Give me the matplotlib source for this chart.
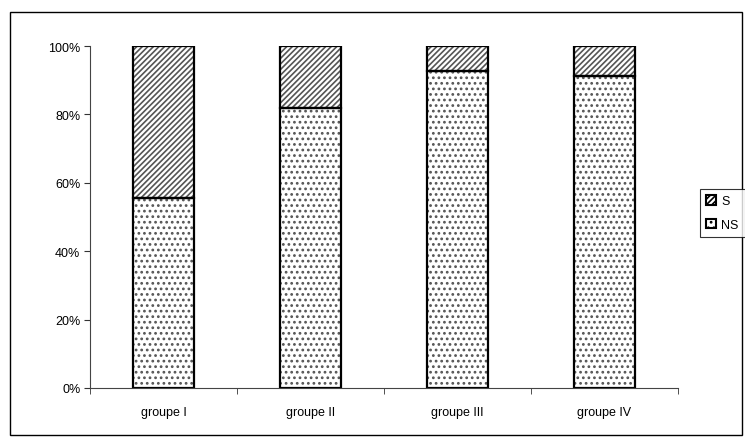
import matplotlib.pyplot as plt
import matplotlib.patches as mpatches
import numpy as np

plt.rcParams['font.family'] = ['Liberation Sans', 'DejaVu Sans']
plt.rcParams['hatch.linewidth'] = 1.2

# data
groups = ["groupe I", "groupe II", "groupe III", "groupe IV"]
ns = [0.556, 0.819, 0.927, 0.912]
s = [0.444, 0.181, 0.073, 0.088]
yticks = [0, 0.2, 0.4, 0.6, 0.8, 1.0]
ytick_labels = ["0%", "20%", "40%", "60%", "80%", "100%"]

W, H = 745, 439
fig = plt.figure(figsize=(W / 100, H / 100), dpi=100)
ax = fig.add_axes([90 / W, 1 - 389 / H, (678 - 90) / W, (389 - 47) / H])

x = np.arange(len(groups))
width = 0.41

# hatched fills (grey hatch), then black outlines on top
ax.bar(x, ns, width, color='white', edgecolor='#555555', hatch='...', linewidth=0)
ax.bar(x, s, width, bottom=ns, color='white', edgecolor='#555555', hatch='//////', linewidth=0)
ax.bar(x, ns, width, fill=False, edgecolor='black', linewidth=1.6)
ax.bar(x, s, width, bottom=ns, fill=False, edgecolor='black', linewidth=1.6)

ax.set_xlim(-0.5, 3.5)
ax.set_ylim(0, 1)
ax.set_yticks(yticks)
ax.set_yticklabels(ytick_labels, fontsize=9)
ax.set_xticks(x)
ax.set_xticklabels(groups, fontsize=9)
ax.tick_params(axis='x', length=0, pad=13)
ax.set_xticks(np.arange(-0.5, 4, 1), minor=True)
ax.tick_params(axis='x', which='minor', length=4, direction='out', color='#333333')
ax.tick_params(axis='y', length=4, direction='out', color='#333333', pad=3)
for side in ['top', 'right']:
    ax.spines[side].set_visible(False)
ax.spines['left'].set_color('#444444')
ax.spines['bottom'].set_color('#444444')

# legend
h_s = mpatches.Patch(facecolor='white', edgecolor='black', hatch='//////', linewidth=1.5)
h_ns = mpatches.Patch(facecolor='white', edgecolor='black', hatch='...', linewidth=1.5)
leg = fig.legend([h_s, h_ns], ["S", "NS"], loc='upper left',
                 bbox_to_anchor=(700 / W, 1 - 190 / H), fontsize=9,
                 fancybox=False, handlelength=0.8, handleheight=0.8,
                 handletextpad=0.4, borderpad=0.5, labelspacing=0.9,
                 borderaxespad=0)
leg.get_frame().set_edgecolor('black')
leg.get_frame().set_linewidth(0.8)

# outer border
fig.add_artist(mpatches.Rectangle((10 / W, 1 - 436 / H), (742 - 10) / W, (436 - 13) / H,
                                  transform=fig.transFigure, fill=False,
                                  edgecolor='black', linewidth=1.0))

fig.savefig("out.png", dpi=100)
